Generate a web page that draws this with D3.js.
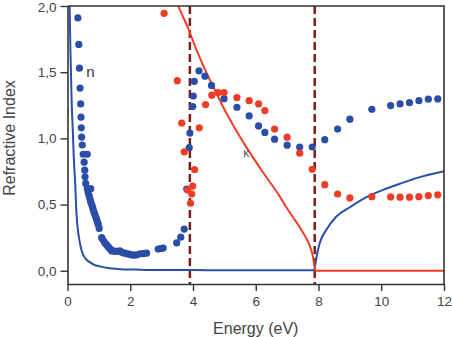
<!DOCTYPE html>
<html>
<head>
<meta charset="utf-8">
<script src="https://cdn.jsdelivr.net/npm/d3@7"></script>
<style>
  body { margin: 0; background: #fff; }
  #chart text { font-family: "Liberation Sans", Arial, sans-serif; }
</style>
</head>
<body>
<div id="chart"></div>
<script>
// measured refractive index n (blue dots), [energy eV, value]
const nDots = [
  [0.33,1.91],[0.36,1.71],[0.38,1.53],[0.40,1.38],[0.42,1.26],[0.43,1.16],[0.44,1.08],[0.45,1.01],
  [0.47,0.95],[0.50,0.88],[0.63,0.88],[0.53,0.82],[0.55,0.76],[0.56,0.71],[0.58,0.66],[0.63,0.62],
  [0.74,0.62],[0.66,0.59],[0.69,0.565],[0.72,0.54],[0.74,0.52],[0.77,0.50],[0.80,0.48],[0.82,0.46],
  [0.85,0.44],[0.88,0.42],[0.91,0.40],[0.93,0.385],[0.96,0.365],[0.98,0.35],[1.01,0.32],[1.09,0.25],
  [1.14,0.23],[1.19,0.21],[1.25,0.195],[1.30,0.18],[1.36,0.165],[1.41,0.15],[1.50,0.148],[1.57,0.146],
  [1.67,0.15],[1.73,0.14],[1.80,0.135],[1.88,0.13],[1.96,0.125],[2.04,0.12],[2.12,0.118],[2.20,0.12],
  [2.31,0.128],[2.42,0.13],[2.52,0.133],[2.89,0.164],[2.97,0.168],[3.05,0.171],[3.48,0.21],[3.61,0.254],
  [3.72,0.315],[3.80,0.617],[3.88,0.93],[3.90,1.04],[3.99,1.24],[4.01,1.32],[4.04,1.43],[4.19,1.51],
  [4.38,1.47],[4.59,1.40],[4.99,1.30],[5.40,1.235],[5.79,1.17],[6.09,1.094],[6.29,1.045],[6.60,0.994],
  [7.00,0.949],[7.40,0.935],[7.80,0.935],[8.20,0.99],[8.61,1.07],[9.00,1.145],[9.70,1.22],[10.3,1.248],
  [10.6,1.26],[10.9,1.27],[11.2,1.285],[11.5,1.296],[11.8,1.298]
];

// measured extinction coefficient kappa (red dots)
const kDots = [
  [3.08,1.945],[3.50,1.436],[3.64,1.115],[3.72,0.898],[3.83,0.61],[3.96,0.58],[3.92,0.51],[3.99,0.64],
  [4.05,0.765],[4.20,1.08],[4.40,1.255],[4.60,1.326],[4.80,1.346],[4.99,1.346],[5.40,1.308],[5.79,1.285],
  [6.09,1.26],[6.29,1.21],[6.60,1.07],[7.00,1.009],[7.40,0.888],[7.80,0.767],[8.20,0.65],[8.61,0.58],
  [9.00,0.55],[9.70,0.56],[10.3,0.558],[10.6,0.556],[10.9,0.556],[11.2,0.56],[11.5,0.568],[11.8,0.574]
];

// model curves
const nCurve = [
  [0.06,2.1],[0.09,1.7],[0.13,1.3],[0.17,1.05],[0.20,0.86],[0.24,0.68],[0.29,0.42],[0.33,0.31],
  [0.38,0.23],[0.44,0.16],[0.50,0.12],[0.60,0.085],[0.72,0.063],[0.85,0.045],[1.03,0.033],[1.30,0.02],
  [1.57,0.014],[2.30,0.008],[3.0,0.006],[4.0,0.005],[5.0,0.004],[6.0,0.004],[7.0,0.004],[7.85,0.004],
  [7.88,0.02],[7.94,0.108],[8.04,0.209],[8.25,0.31],[8.57,0.41],[9.00,0.48],[9.53,0.556],[10.06,0.611],
  [10.59,0.657],[11.12,0.70],[12.0,0.752]
];
const kCurve = [
  [3.45,2.05],[3.53,2.0],[3.70,1.91],[3.85,1.83],[4.01,1.73],[4.27,1.58],[4.54,1.44],[4.75,1.34],
  [5.02,1.21],[5.28,1.10],[5.71,0.93],[6.24,0.74],[6.77,0.56],[7.00,0.47],[7.20,0.40],[7.40,0.33],
  [7.60,0.25],[7.72,0.19],[7.82,0.11],[7.87,0.04],[7.90,0.0],[9.0,0.0],[12.0,0.0]
];

// band edges (dashed)
const edges = [3.9, 7.88];

const xTicks = [0, 2, 4, 6, 8, 10, 12];
const yTicks = [0, 0.5, 1.0, 1.5, 2.0];

const width = 452, height = 337;
const margin = {top: 6, right: 8, bottom: 53, left: 67.5};

const svg = d3.select('#chart').append('svg')
  .attr('width', width)
  .attr('height', height);

const x = d3.scaleLinear().domain([0, 12]).range([margin.left, width - margin.right]);
const y = d3.scaleLinear().domain([-0.1, 2.0]).range([height - margin.bottom, margin.top]);

svg.append('clipPath').attr('id', 'plot')
  .append('rect')
  .attr('x', x.range()[0]).attr('y', y.range()[1])
  .attr('width', x.range()[1] - x.range()[0])
  .attr('height', y.range()[0] - y.range()[1]);

const blue = '#2a4da6', red = '#ef3d25';

// dashed edges
svg.append('g').selectAll('line')
  .data(edges)
  .join('line')
    .attr('x1', d => x(d)).attr('x2', d => x(d))
    .attr('y1', y.range()[1]).attr('y2', y.range()[0])
    .attr('stroke', '#7a1d1d')
    .attr('stroke-width', 2.5)
    .attr('stroke-dasharray', '8,4');

const line = d3.line()
  .x(d => x(d[0]))
  .y(d => y(d[1]))
  .curve(d3.curveMonotoneX);

const curves = svg.append('g').attr('clip-path', 'url(#plot)');
curves.append('path').datum(nCurve)
  .attr('d', line).attr('fill', 'none')
  .attr('stroke', blue).attr('stroke-width', 2);
curves.append('path').datum(kCurve)
  .attr('d', line).attr('fill', 'none')
  .attr('stroke', red).attr('stroke-width', 2);

// dots
svg.append('g').selectAll('circle')
  .data(nDots)
  .join('circle')
    .attr('cx', d => x(d[0]))
    .attr('cy', d => y(d[1]))
    .attr('r', 3.6)
    .attr('fill', blue);

svg.append('g').selectAll('circle')
  .data(kDots)
  .join('circle')
    .attr('cx', d => x(d[0]))
    .attr('cy', d => y(d[1]))
    .attr('r', 3.6)
    .attr('fill', red);

// axes
const fmt = d => d3.format('.1f')(d).replace('.', ',');

const yAxis = svg.append('g')
  .attr('transform', 'translate(' + x.range()[0] + ',0)')
  .call(d3.axisLeft(y).tickValues(yTicks).tickFormat(fmt).tickSize(7).tickSizeOuter(0).tickPadding(4));

const xAxis = svg.append('g')
  .attr('transform', 'translate(0,' + y.range()[0] + ')')
  .call(d3.axisBottom(x).tickValues(xTicks).tickSize(7).tickSizeOuter(0).tickPadding(5));

[yAxis, xAxis].forEach(a => {
  a.select('.domain').attr('stroke', '#333').attr('stroke-width', 1.6);
  a.selectAll('.tick line').attr('stroke', '#333').attr('stroke-width', 1.4);
  a.selectAll('.tick text').attr('fill', '#444').style('font-size', '13.5px');
});

// top y label sits against the window edge; nudge it just inside
yAxis.selectAll('.tick text').filter(d => d === 2.0).attr('dy', '0.42em');

// top and right frame
svg.append('path')
  .attr('d', 'M' + x.range()[0] + ',' + y.range()[1] + 'H' + x.range()[1] + 'V' + y.range()[0])
  .attr('fill', 'none')
  .attr('stroke', '#333')
  .attr('stroke-width', 1.6);

// labels
svg.append('text')
  .attr('x', (x.range()[0] + x.range()[1]) / 2)
  .attr('y', 334)
  .attr('text-anchor', 'middle')
  .attr('fill', '#444')
  .style('font-size', '16px')
  .text('Energy (eV)');

svg.append('text')
  .attr('transform', 'translate(15,138) rotate(-90)')
  .attr('text-anchor', 'middle')
  .attr('fill', '#444')
  .style('font-size', '16px')
  .text('Refractive Index');

svg.append('text')
  .attr('x', x(0.6)).attr('y', y(1.5) + 5)
  .attr('fill', '#333')
  .style('font-size', '15px')
  .text('n');

svg.append('text')
  .attr('x', x(5.6)).attr('y', y(0.9) + 5)
  .attr('fill', '#555')
  .style('font-size', '12px')
  .text('κ');
</script>
</body>
</html>
